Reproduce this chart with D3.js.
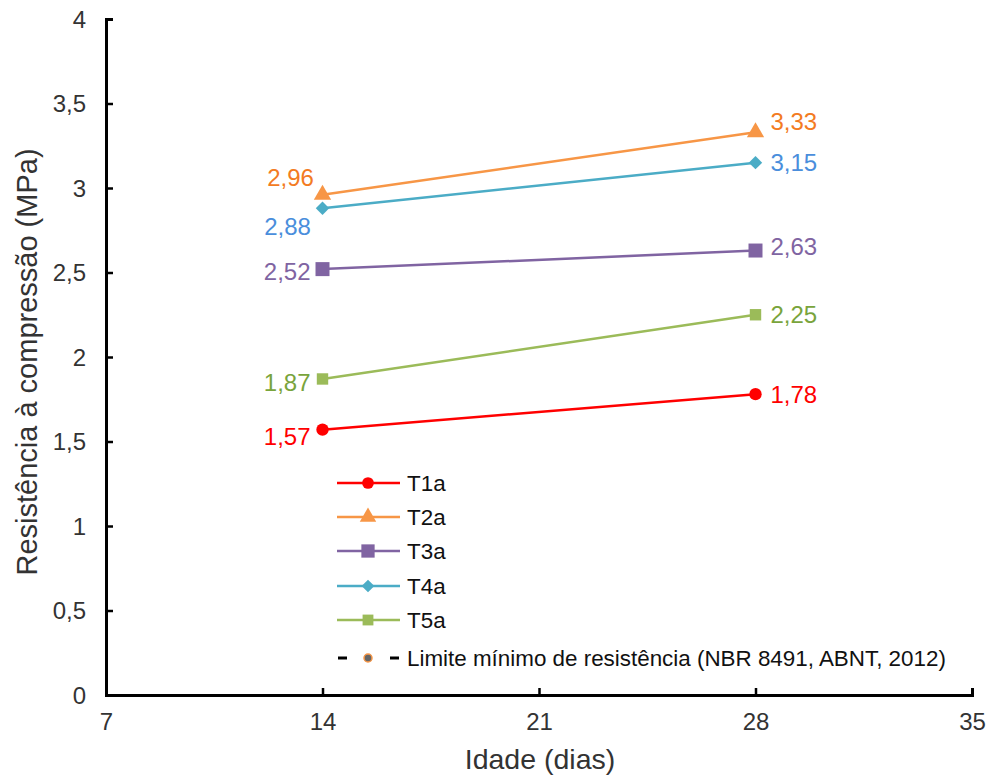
<!DOCTYPE html>
<html><head><meta charset="utf-8">
<script src="https://cdn.jsdelivr.net/npm/d3@7"></script>
<style>body{margin:0;background:#fff}svg{display:block}text{font-family:"Liberation Sans",Arial,sans-serif}</style>
</head><body><svg id="c" width="989" height="776"></svg>
<script>
const days = [14, 28];
const seriesNames = ["T1a","T2a","T3a","T4a","T5a"];
const t1a = [1.57, 1.78];
const t2a = [2.96, 3.33];
const t3a = [2.52, 2.63];
const t4a = [2.88, 3.15];
const t5a = [1.87, 2.25];
const xTicks = [7, 14, 21, 28, 35];
const yTicks = [0, 0.5, 1, 1.5, 2, 2.5, 3, 3.5, 4];
const limitLabel = "Limite mínimo de resistência (NBR 8491, ABNT, 2012)";

const colors = ["#FF0000","#F79646","#8064A2","#4BACC6","#9BBB59"];
const labelColors = ["#FF0000","#F37B22","#8064A2","#4A8EDC","#79A43C"];
const symbols = [d3.symbolCircle, d3.symbolTriangle, d3.symbolSquare, d3.symbolSquare, d3.symbolSquare];
const symRot = [0, 0, 0, 45, 0];
const symSizes = [120, 130, 196, 90, 130];
const allVals = [t1a,t2a,t3a,t4a,t5a];
// label placement: [dx,dy,anchor] for day 14 and day 28
const labPos = [
  [[-12,15,"end"],[15,9,"start"]],
  [[-32,-9,"middle"],[15,-2,"start"]],
  [[-12,11,"end"],[15,4,"start"]],
  [[-35,27,"middle"],[15,8,"start"]],
  [[-12,12,"end"],[15,8,"start"]]
];

const svg = d3.select("#c");
const x = d3.scaleLinear().domain([7,35]).range([106,972]);
const y = d3.scaleLinear().domain([0,4]).range([695,19]);
const fmt = v => String(v).replace(".", ",");

// axes
const xAxis = svg.append("g").attr("transform","translate(0,695)")
  .call(d3.axisBottom(x).tickValues(xTicks).tickSizeInner(-7).tickSizeOuter(-7).tickPadding(18).tickFormat(d=>d));
const yAxis = svg.append("g").attr("transform","translate(106,0)")
  .call(d3.axisLeft(y).tickValues(yTicks).tickSizeInner(-7).tickSizeOuter(-7).tickPadding(20).tickFormat(fmt));
[xAxis,yAxis].forEach(a=>{
  a.select(".domain").attr("stroke","#000").attr("stroke-width",3);
  a.selectAll(".tick line").attr("stroke","#000").attr("stroke-width",2.5);
  a.selectAll("text").attr("font-size",24).attr("fill","#333");
});
yAxis.selectAll(".tick text").attr("dy","0.35em");

svg.append("text").attr("x",540).attr("y",769).attr("text-anchor","middle")
  .attr("font-size",28.5).attr("fill","#333").text("Idade (dias)");
svg.append("text").attr("transform","translate(37,362) rotate(-90)").attr("text-anchor","middle")
  .attr("font-size",29).attr("fill","#333").text("Resistência à compressão (MPa)");

const line = d3.line().x((d,i)=>x(days[i])).y(d=>y(d));
allVals.forEach((vals,si)=>{
  const g = svg.append("g");
  g.append("path").datum(vals).attr("d",line).attr("fill","none")
    .attr("stroke",colors[si]).attr("stroke-width",2.5);
  g.selectAll("path.m").data(vals).join("path").attr("class","m")
    .attr("transform",(d,i)=>`translate(${x(days[i])},${y(d)}) rotate(${symRot[si]})`)
    .attr("d",d3.symbol().type(symbols[si]).size(symSizes[si]))
    .attr("fill",colors[si]);
  g.selectAll("text").data(vals).join("text")
    .attr("x",(d,i)=>x(days[i])+labPos[si][i][0])
    .attr("y",(d,i)=>y(d)+labPos[si][i][1])
    .attr("text-anchor",(d,i)=>labPos[si][i][2])
    .attr("font-size",24).attr("fill",labelColors[si]).text(fmt);
});

// legend
const lg = svg.append("g").attr("transform","translate(337,0)");
const rowsY = [483,517,551,586,620];
seriesNames.forEach((n,si)=>{
  const r = lg.append("g").attr("transform",`translate(0,${rowsY[si]})`);
  r.append("line").attr("x1",0).attr("x2",63).attr("stroke",colors[si]).attr("stroke-width",2.5);
  r.append("path").attr("transform",`translate(31,0) rotate(${symRot[si]})`)
    .attr("d",d3.symbol().type(symbols[si]).size(symSizes[si]*0.9)).attr("fill",colors[si]);
  r.append("text").attr("x",70).attr("y",8).attr("font-size",22.4).attr("fill","#111").text(n);
});
const lr = lg.append("g").attr("transform","translate(0,658)");
lr.append("line").attr("x1",1).attr("x2",62).attr("stroke","#000").attr("stroke-width",3).attr("stroke-dasharray","9,43");
lr.append("circle").attr("cx",31).attr("r",4).attr("fill","#666").attr("stroke","#F79646").attr("stroke-width",1.5);
lr.append("text").attr("x",70).attr("y",8).attr("font-size",22.4).attr("fill","#111").text(limitLabel);
</script></body></html>
